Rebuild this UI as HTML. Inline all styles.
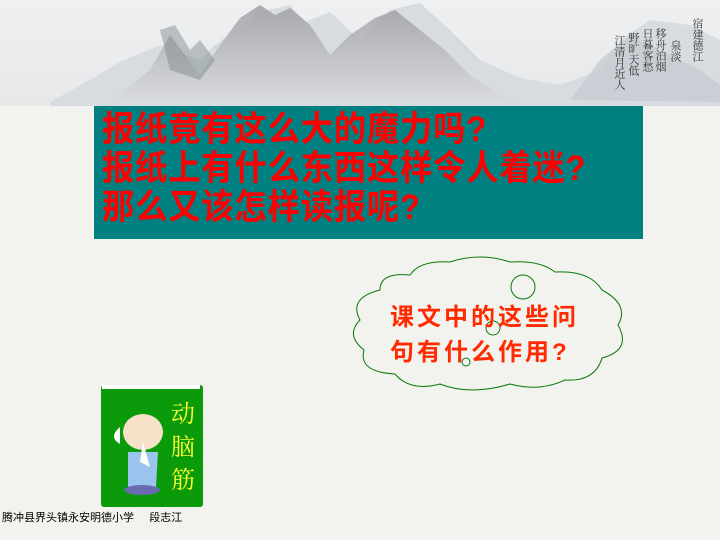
<!DOCTYPE html>
<html><head><meta charset="utf-8"><style>
body{margin:0;width:720px;height:540px;overflow:hidden;background:#f2f2ee;font-family:"Liberation Sans","Noto Sans CJK SC",sans-serif;position:relative}
.abs{position:absolute}
#box{left:94px;top:106px;width:549px;height:133px;background:#008080}
#box div{position:absolute;left:8px;color:#ff0000;font-weight:bold;font-size:35px;letter-spacing:1px;line-height:39px;white-space:nowrap;transform:scaleX(0.92);transform-origin:0 0}
.q{color:#ff2a00;font-size:24px;font-weight:bold;letter-spacing:3px;white-space:nowrap}
</style></head><body>
<svg class="abs" style="left:0;top:0" width="720" height="106">
<defs><linearGradient id="m" x1="0" y1="0" x2="0" y2="1"><stop offset="0" stop-color="#9a9aa0"/><stop offset="1" stop-color="#d9dbdf"/></linearGradient>
<linearGradient id="f" x1="0" y1="0" x2="0" y2="1"><stop offset="0" stop-color="#eef0f1"/><stop offset="1" stop-color="#e6e8ea"/></linearGradient></defs>
<rect width="720" height="106" fill="url(#f)"/>
<path d="M50,102 L90,80 L120,62 L160,45 L200,60 L215,45 L260,12 L290,5 L305,22 L330,12 L360,40 L390,10 L420,3 L450,30 L480,60 L520,78 L560,85 L600,70 L620,40 L650,20 L690,25 L720,40 L720,106 L50,106Z" fill="#d8dbe0"/>
<path d="M110,102 L150,70 L170,35 L185,55 L200,75 L220,45 L240,18 L260,5 L275,15 L290,8 L310,25 L330,55 L350,35 L375,18 L395,10 L420,30 L445,50 L470,75 L500,95 L520,102Z" fill="url(#m)" opacity="0.8"/>
<path d="M160,30 L175,25 L190,50 L200,40 L215,60 L200,80 L170,70Z" fill="#6d7a7c" opacity="0.4"/>
<path d="M570,100 L600,60 L630,35 L660,50 L700,70 L720,85 L720,102Z" fill="#c8ccd2" opacity="0.8"/>
<g fill="#333" font-size="11" font-family="'Noto Serif CJK SC',serif">
<text x="698" y="18" writing-mode="tb">宿建德江</text>
<text x="676" y="40" writing-mode="tb">泉淡</text>
<text x="661" y="28" writing-mode="tb">移舟泊烟</text>
<text x="648" y="28" writing-mode="tb">日暮客愁</text>
<text x="634" y="32" writing-mode="tb">野旷天低</text>
<text x="620" y="35" writing-mode="tb">江清月近人</text>
</g>
</svg>
<div id="box" class="abs">
<div style="top:4px">报纸竟有这么大的魔力吗?</div>
<div style="top:43px">报纸上有什么东西这样令人着迷?</div>
<div style="top:82px">那么又该怎样读报呢?</div>
</div>
<svg class="abs" style="left:340px;top:250px" width="300" height="150">
<path d="M40,40 Q40,22 70,25 Q80,10 110,12 Q140,2 170,12 Q200,10 215,22 Q250,20 262,40 Q290,55 278,75 Q292,100 262,108 Q255,132 225,130 Q200,142 170,134 Q130,146 100,134 Q70,142 55,124 Q18,122 24,100 Q5,85 20,70 Q8,48 40,40Z" fill="none" stroke="#0a7a0a" stroke-width="1"/>
<circle cx="183" cy="37" r="12" fill="none" stroke="#0a7a0a"/>
<circle cx="153" cy="78" r="7" fill="none" stroke="#0a7a0a"/>
<circle cx="126" cy="112" r="4" fill="none" stroke="#0a7a0a"/>
</svg>
<div class="abs q" style="left:390px;top:297px">课文中的这些问</div>
<div class="abs q" style="left:390px;top:332px">句有什么作用?</div>
<svg class="abs" style="left:98px;top:382px" width="108" height="126">
<rect x="3" y="3" width="102" height="122" rx="3" fill="#0a9a0a"/>
<rect x="4" y="3" width="98" height="4" fill="#fff"/>
<ellipse cx="45" cy="50" rx="20" ry="18" fill="#f5e0c8"/>
<path d="M22,45 Q10,55 22,62" fill="#fff"/>
<path d="M30,70 L60,70 L58,105 L30,105Z" fill="#9ac4ee"/>
<ellipse cx="44" cy="108" rx="18" ry="5" fill="#6a6ab0"/>
<path d="M45,60 L52,85 L42,80Z" fill="#fff"/>
<text x="73" y="40" font-size="24" fill="#ffff33" font-family="'Noto Serif CJK SC',serif">动</text>
<text x="73" y="73" font-size="24" fill="#ffff33" font-family="'Noto Serif CJK SC',serif">脑</text>
<text x="73" y="106" font-size="24" fill="#ffff33" font-family="'Noto Serif CJK SC',serif">筋</text>
</svg>
<div class="abs" style="left:2px;top:509px;font-size:11px;color:#000;white-space:nowrap">腾冲县界头镇永安明德小学&nbsp;&nbsp;&nbsp;&nbsp;&nbsp;段志江</div>
</body></html>
